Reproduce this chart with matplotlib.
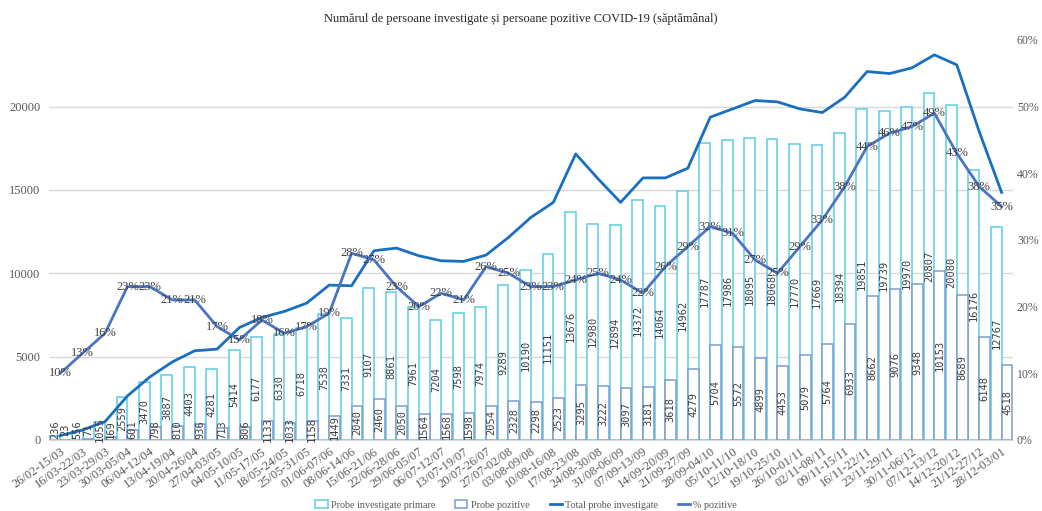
import numpy as np
import matplotlib
matplotlib.use("Agg")
import matplotlib.pyplot as plt
from matplotlib.patches import Patch
from matplotlib.lines import Line2D
from matplotlib.ticker import PercentFormatter

plt.rcParams['font.family'] = ['Liberation Serif', 'DejaVu Sans']

# saptamani
saptamani = ["26/02-15/03", "16/03-22/03", "23/03-29/03", "30/03-05/04", "06/04-12/04",
             "13/04-19/04", "20/04-26/04", "27/04-03/05", "04/05-10/05", "11/05-17/05",
             "18/05-24/05", "25/05-31/05", "01/06-07/06", "08/06-14/06", "15/06-21/06",
             "22/06-28/06", "29/06-05/07", "06/07-12/07", "13/07-19/07", "20/07-26/07",
             "27/07-02/08", "03/08-09/08", "10/08-16/08", "17/08-23/08", "24/08-30/08",
             "31/08-06/09", "07/09-13/09", "14/09-20/09", "21/09-27/09", "28/09-04/10",
             "05/10-11/10", "12/10-18/10", "19/10-25/10", "26/10-01/11", "02/11-08/11",
             "09/11-15/11", "16/11-22/11", "23/11-29/11", "30/11-06/12", "07/12-13/12",
             "14/12-20/12", "21/12-27/12", "28/12-03/01"]

probe_primare = [236, 556, 1055, 2559, 3470, 3887, 4403, 4281, 5414, 6177, 6330, 6718,
                 7538, 7331, 9107, 8861, 7961, 7204, 7598, 7974, 9289, 10190, 11151,
                 13676, 12980, 12894, 14372, 14064, 14962, 17787, 17986, 18095, 18068,
                 17770, 17669, 18394, 19851, 19739, 19970, 20807, 20080, 16176, 12767]

probe_pozitive = [23, 71, 169, 601, 798, 810, 936, 713, 806, 1133, 1033, 1158, 1449,
                  2040, 2460, 2050, 1564, 1568, 1598, 2054, 2328, 2298, 2523, 3295, 3222,
                  3097, 3181, 3618, 4279, 5704, 5572, 4899, 4453, 5079, 5764, 6933, 8662,
                  9076, 9348, 10153, 8689, 6148, 4518]

# (aproximativ)
total_probe = [260, 600, 1100, 2640, 3780, 4680, 5350, 5450, 6750, 7350, 7710, 8210,
               9290, 9250, 11350, 11510, 11050, 10750, 10710, 11090, 12150, 13350, 14250,
               17160, 15660, 14250, 15720, 15720, 16300, 19360, 19860, 20360, 20280,
               19860, 19640, 20560, 22100, 21980, 22320, 23100, 22500, 18500, 14850]

procent_pozitive = [10, 13, 16, 23, 23, 21, 21, 17, 15, 18, 16, 17, 19, 28, 27, 23, 20,
                    22, 21, 26, 25, 23, 23, 24, 25, 24, 22, 26, 29, 32, 31, 27, 25, 29,
                    33, 38, 44, 46, 47, 49, 43, 38, 35]

c_primare = '#5BCBE6'
c_pozitive = '#7A9CD3'
c_total = '#1A6FBE'
c_proc = '#4A74C4'
c_text = '#404040'
c_axis = '#595959'

fig = plt.figure(figsize=(10.42, 5.11), dpi=100)
ax = fig.add_axes([0.047, 0.139, 0.925, 0.783])
ax2 = ax.twinx()

x = np.arange(len(saptamani))
w = 0.48

ax.bar(x - w / 2, probe_primare, w, facecolor='white', edgecolor=c_primare, linewidth=1.1, zorder=2)
ax.bar(x + w / 2, probe_pozitive, w, facecolor='white', edgecolor=c_pozitive, linewidth=1.1, zorder=2)
ax.plot(x, total_probe, color=c_total, linewidth=2, zorder=4)

for i in range(len(x)):
    ax.text(x[i] - w / 2, max(probe_primare[i] / 2, 600), str(probe_primare[i]), rotation=90,
            ha='center', va='center', fontsize=7.5, family='DejaVu Sans Mono', color=c_text, zorder=5)
    ax.text(x[i] + w / 2, max(probe_pozitive[i] / 2, 600), str(probe_pozitive[i]), rotation=90,
            ha='center', va='center', fontsize=7.5, family='DejaVu Sans Mono', color=c_text, zorder=5)

ax.set_xlim(-0.5, len(x) - 0.5)
ax.set_ylim(0, 24000)
ax.set_yticks([0, 5000, 10000, 15000, 20000])
ax.grid(axis='y', color='#D9D9D9', linewidth=1, zorder=0)
ax.set_axisbelow(True)
ax.set_xticks(x)
ax.set_xticklabels(saptamani, rotation=35, ha='right', rotation_mode='anchor', fontsize=9, color=c_axis)
ax.tick_params(axis='x', length=0, pad=4)
ax.tick_params(axis='y', length=0, labelsize=9, labelcolor=c_axis, pad=6)
for s in ['top', 'right', 'left']:
    ax.spines[s].set_visible(False)
ax.spines['bottom'].set_color('#D9D9D9')

ax2.plot(x, procent_pozitive, color=c_proc, linewidth=2, zorder=4)
for i in range(len(x)):
    ax2.text(x[i], procent_pozitive[i], '%d%%' % procent_pozitive[i], ha='center', va='center',
             fontsize=9, color=c_text, zorder=6)
ax2.set_ylim(0, 60)
ax2.set_yticks(range(0, 61, 10))
ax2.yaxis.set_major_formatter(PercentFormatter(decimals=0))
ax2.tick_params(axis='y', length=0, labelsize=8.5, labelcolor=c_axis, pad=3)
for s in ['top', 'right', 'left', 'bottom']:
    ax2.spines[s].set_visible(False)

fig.text(0.5, 0.962, 'Numărul de persoane investigate și persoane pozitive COVID-19 (săptămânal)',
         ha='center', va='center', fontsize=9, color='#262626')

handles = [Patch(facecolor='white', edgecolor=c_primare, linewidth=1.1),
           Patch(facecolor='white', edgecolor=c_pozitive, linewidth=1.1),
           Line2D([0], [0], color=c_total, linewidth=2),
           Line2D([0], [0], color=c_proc, linewidth=2)]
labels = ['Probe investigate primare', 'Probe pozitive', 'Total probe investigate', '% pozitive']
fig.legend(handles, labels, loc='center', bbox_to_anchor=(0.505, 0.012), ncol=4, frameon=False,
           fontsize=7.3, handlelength=1.2, handleheight=0.9, columnspacing=2.0, handletextpad=0.3,
           labelcolor=c_axis)

fig.savefig('out.png', dpi=100)
